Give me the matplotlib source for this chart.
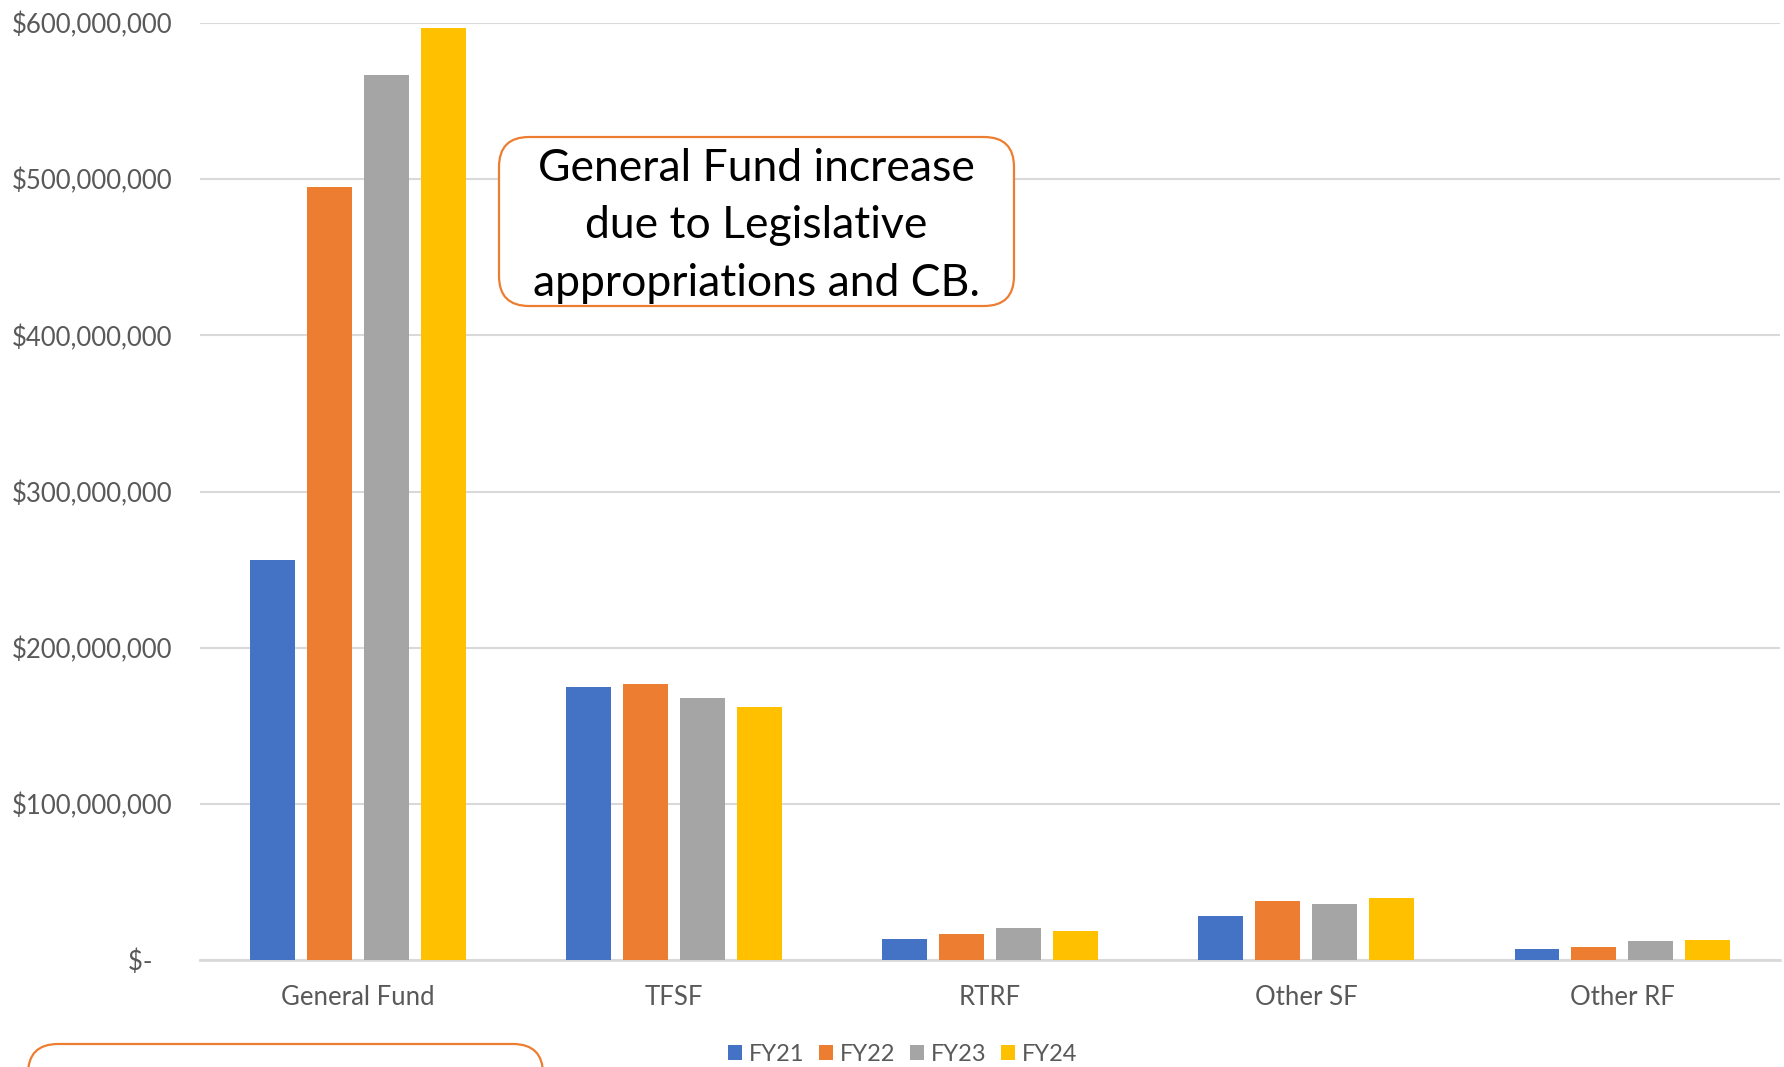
import numpy as np
import matplotlib
matplotlib.use("Agg")
import matplotlib.pyplot as plt
from matplotlib.patches import FancyBboxPatch

plt.rcParams['font.family'] = ['Lato', 'DejaVu Sans']

# ---- data ----
categories = ["General Fund", "TFSF", "RTRF", "Other SF", "Other RF"]
years = ["FY21", "FY22", "FY23", "FY24"]
fy21 = [256e6, 175e6, 13.5e6, 28e6, 7e6]
fy22 = [495e6, 177e6, 16.5e6, 38e6, 8e6]
fy23 = [567e6, 168e6, 20.5e6, 35.7e6, 12e6]
fy24 = [597e6, 162e6, 18.6e6, 39.7e6, 13e6]
yticks = [0, 100e6, 200e6, 300e6, 400e6, 500e6, 600e6]
ytick_labels = ["$-   ", "$100,000,000", "$200,000,000", "$300,000,000",
                "$400,000,000", "$500,000,000", "$600,000,000"]
colors = ["#4472C4", "#ED7D31", "#A5A5A5", "#FFC000"]
note = "General Fund increase\ndue to Legislative\nappropriations and CB."

# ---- figure ----
fig = plt.figure(figsize=(17.84, 10.67), dpi=100)
ax = fig.add_axes([0.112, 0.1003, 0.886, 0.8781])

x = np.arange(len(categories))
step = 0.18
width = 0.142
for i, (vals, lab) in enumerate(zip([fy21, fy22, fy23, fy24], years)):
    ax.bar(x + (i - 1.5) * step, vals, width, color=colors[i], label=lab, zorder=3)

ax.set_xlim(-0.5, len(categories) - 0.5)
ax.set_ylim(0, 600e6)
ax.set_yticks(yticks)
ax.set_yticklabels(ytick_labels)
ax.set_xticks(x)
ax.set_xticklabels(categories)
ax.tick_params(axis='both', length=0, labelsize=18.5, colors='#595959')
ax.tick_params(axis='y', pad=20)
ax.tick_params(axis='x', pad=18)
ax.grid(axis='y', color='#D9D9D9', linewidth=1.5, zorder=0)
for s in ['top', 'right', 'left']:
    ax.spines[s].set_visible(False)
ax.spines['bottom'].set_color('#D9D9D9')
ax.spines['bottom'].set_linewidth(2)

leg = fig.legend(loc='center', bbox_to_anchor=(0.506, 0.012), ncol=4, frameon=False,
                 fontsize=17, handlelength=0.6, handleheight=0.6, handletextpad=0.3,
                 columnspacing=0.6)
for t in leg.get_texts():
    t.set_color('#595959')

# callout boxes
box = FancyBboxPatch((4.99, 7.61), 5.15, 1.69, boxstyle="round,pad=0,rounding_size=0.3",
                     transform=fig.dpi_scale_trans, facecolor='white', edgecolor='#ED7D31',
                     linewidth=1.6, zorder=5)
fig.patches.append(box)
fig.text(7.565 / 17.84, 8.41 / 10.67, note, ha='center', va='center', fontsize=32,
         linespacing=1.5, color='black', zorder=6)

box2 = FancyBboxPatch((0.28, -1.46), 5.15, 1.69, boxstyle="round,pad=0,rounding_size=0.3",
                      transform=fig.dpi_scale_trans, facecolor='white', edgecolor='#ED7D31',
                      linewidth=1.6, zorder=5)
fig.patches.append(box2)

fig.savefig("out.png", dpi=100)
